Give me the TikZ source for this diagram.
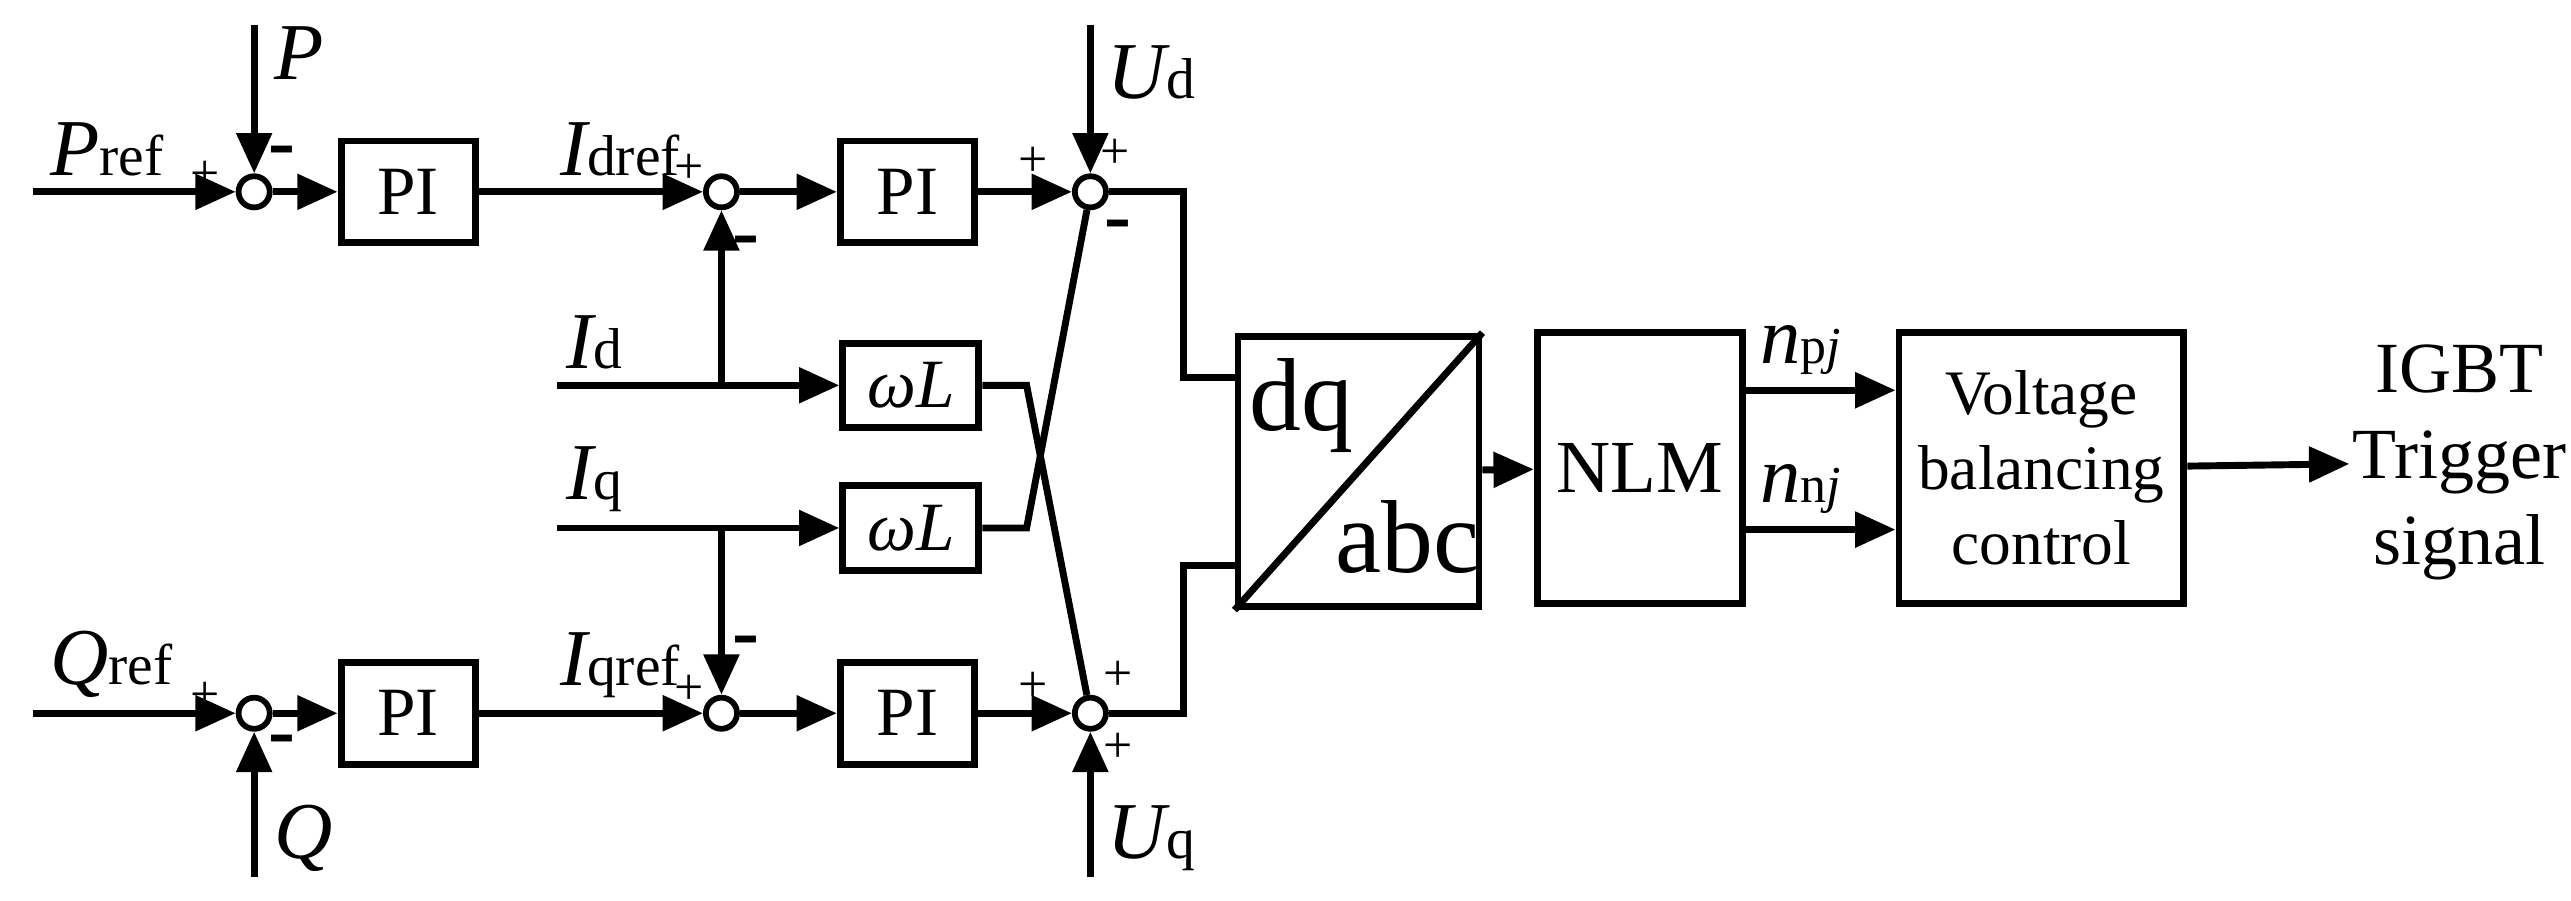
\documentclass[tikz,border=0pt]{standalone}
\usepackage{fontspec}
\setmainfont{Liberation Serif}
\usetikzlibrary{arrows.meta}
\begin{document}
\begin{tikzpicture}[line width=1.2pt,
  >={Triangle[length=7pt,width=6pt]},
  blk/.style={draw,minimum width=0.82cm,minimum height=0.62cm,font=\fontsize{12}{12}\selectfont},
  wl/.style={draw,minimum width=0.83cm,minimum height=0.42cm,font=\fontsize{12}{12}\selectfont\itshape},
  big/.style={draw,minimum height=1.65cm},
  sum/.style={draw,circle,line width=1pt,minimum size=0.19cm,inner sep=0pt,fill=white},
  lab/.style={font=\fontsize{14}{14}\selectfont,inner sep=1pt},
  sg/.style={font=\fontsize{9}{9}\selectfont,inner sep=0pt},
  mn/.style={font=\fontsize{14}{14}\selectfont\bfseries,inner sep=0pt}]
\useasboundingbox (0,0) rectangle (15.68,5.49);
% upper chain
\node[sum] (s1) at (1.55,4.32) {};
\node[blk] (pi1) at (2.49,4.32) {PI};
\node[sum] (s2) at (4.40,4.32) {};
\node[blk] (pi2) at (5.535,4.32) {PI};
\node[sum] (s3) at (6.65,4.32) {};
% lower chain
\node[sum] (t1) at (1.55,1.14) {};
\node[blk] (pq1) at (2.49,1.14) {PI};
\node[sum] (t2) at (4.40,1.14) {};
\node[blk] (pq2) at (5.535,1.14) {PI};
\node[sum] (t3) at (6.65,1.14) {};
% cross coupling
\node[wl] (w1) at (5.555,3.14) {ωL};
\node[wl] (w2) at (5.555,2.27) {ωL};
% right part
\node[big,minimum width=1.47cm] (dq) at (8.285,2.615) {};
\draw (dq.south west) -- (dq.north east);
\node[font=\fontsize{18}{18}\selectfont,inner sep=0pt] at ([xshift=-0.35cm,yshift=0.4cm]dq.center) {dq};
\node[font=\fontsize{18}{18}\selectfont,inner sep=0pt] at ([xshift=0.3cm,yshift=-0.4cm]dq.center) {abc};
\node[big,minimum width=0.9cm,font=\fontsize{13}{13}\selectfont] (nlm) at (10.0,2.635) {NLM};
\node[big,minimum width=1.4cm,align=center,font=\fontsize{11}{13}\selectfont] (vbc) at (12.45,2.635) {Voltage\\balancing\\control};
\node[align=center,font=\fontsize{12.5}{15}\selectfont,inner sep=0pt] (igbt) at (15.0,2.67) {IGBT\\Trigger\\signal};
% inputs
\coordinate (pin) at (0.20,4.32);
\coordinate (ptop) at (1.55,5.34);
\coordinate (qin) at (0.20,1.14);
\coordinate (qbot) at (1.55,0.14);
\coordinate (udtop) at (6.65,5.34);
\coordinate (uqbot) at (6.65,0.14);
\coordinate (idin) at (3.40,3.14);
\coordinate (iqin) at (3.40,2.27);
\coordinate (bd) at (4.40,3.14);
\coordinate (bq) at (4.40,2.27);
\draw[->] (pin) -- (s1);
\draw[->] (ptop) -- (s1);
\draw[->] (qin) -- (t1);
\draw[->] (qbot) -- (t1);
\draw[->] (udtop) -- (s3);
\draw[->] (uqbot) -- (t3);
\draw[->] (s1) -- (pi1);
\draw[->] (pi1) -- (s2);
\draw[->] (s2) -- (pi2);
\draw[->] (pi2) -- (s3);
\draw[->] (t1) -- (pq1);
\draw[->] (pq1) -- (t2);
\draw[->] (t2) -- (pq2);
\draw[->] (pq2) -- (t3);
\draw[->] (idin) -- (w1);
\draw[->] (iqin) -- (w2);
\draw[->] (bd) -- (s2);
\draw[->] (bq) -- (t2);
\draw (w1.east) -- ++(0.27,0) -- (t3);
\draw (w2.east) -- ++(0.27,0) -- (s3);
\draw (s3) -- (7.22,4.32) |- (dq.west |- 0,3.19);
\draw (t3) -- (7.22,1.14) |- (dq.west |- 0,2.04);
\draw[->] (dq) -- (nlm);
\draw[->] (nlm.east |- 0,3.11) -- (vbc.west |- 0,3.11);
\draw[->] (nlm.east |- 0,2.26) -- (vbc.west |- 0,2.26);
\draw[->] (vbc) -- (igbt);
% labels
\node[lab,anchor=south west] at (0.25,4.36) {\itshape P\fontsize{10}{10}\upshape ref};
\node[lab,anchor=south west] at (1.62,4.95) {\itshape P};
\node[lab,anchor=south west] at (0.25,1.18) {\itshape Q\fontsize{10}{10}\upshape ref};
\node[lab,anchor=west] at (1.62,0.38) {\itshape Q};
\node[lab,anchor=south west] at (3.36,4.36) {\itshape I\fontsize{10}{10}\upshape dref};
\node[lab,anchor=south west] at (3.36,1.18) {\itshape I\fontsize{10}{10}\upshape qref};
\node[lab,anchor=south west] at (3.40,3.18) {\itshape I\fontsize{10}{10}\upshape d};
\node[lab,anchor=south west] at (3.40,2.31) {\itshape I\fontsize{10}{10}\upshape q};
\node[lab,anchor=west] at (6.70,5.05) {\itshape U\fontsize{10}{10}\upshape d};
\node[lab,anchor=west] at (6.70,0.38) {\itshape U\fontsize{10}{10}\upshape q};
\node[lab,anchor=south west] at (10.68,3.15) {\itshape n\fontsize{9}{9}\upshape p\itshape j};
\node[lab,anchor=south west] at (10.68,2.30) {\itshape n\fontsize{9}{9}\upshape n\itshape j};
% signs
\node[sg] at (1.25,4.42) {+};
\node[mn] at (1.72,4.53) {-};
\node[sg] at (1.25,1.24) {+};
\node[mn] at (1.72,0.94) {-};
\node[sg] at (4.20,4.46) {+};
\node[mn] at (4.55,3.98) {-};
\node[sg] at (4.20,1.28) {+};
\node[mn] at (4.55,1.54) {-};
\node[sg] at (6.30,4.50) {+};
\node[sg] at (6.80,4.55) {+};
\node[mn] at (6.82,4.08) {-};
\node[sg] at (6.30,1.30) {+};
\node[sg] at (6.82,1.37) {+};
\node[sg] at (6.82,0.93) {+};
\end{tikzpicture}
\end{document}
